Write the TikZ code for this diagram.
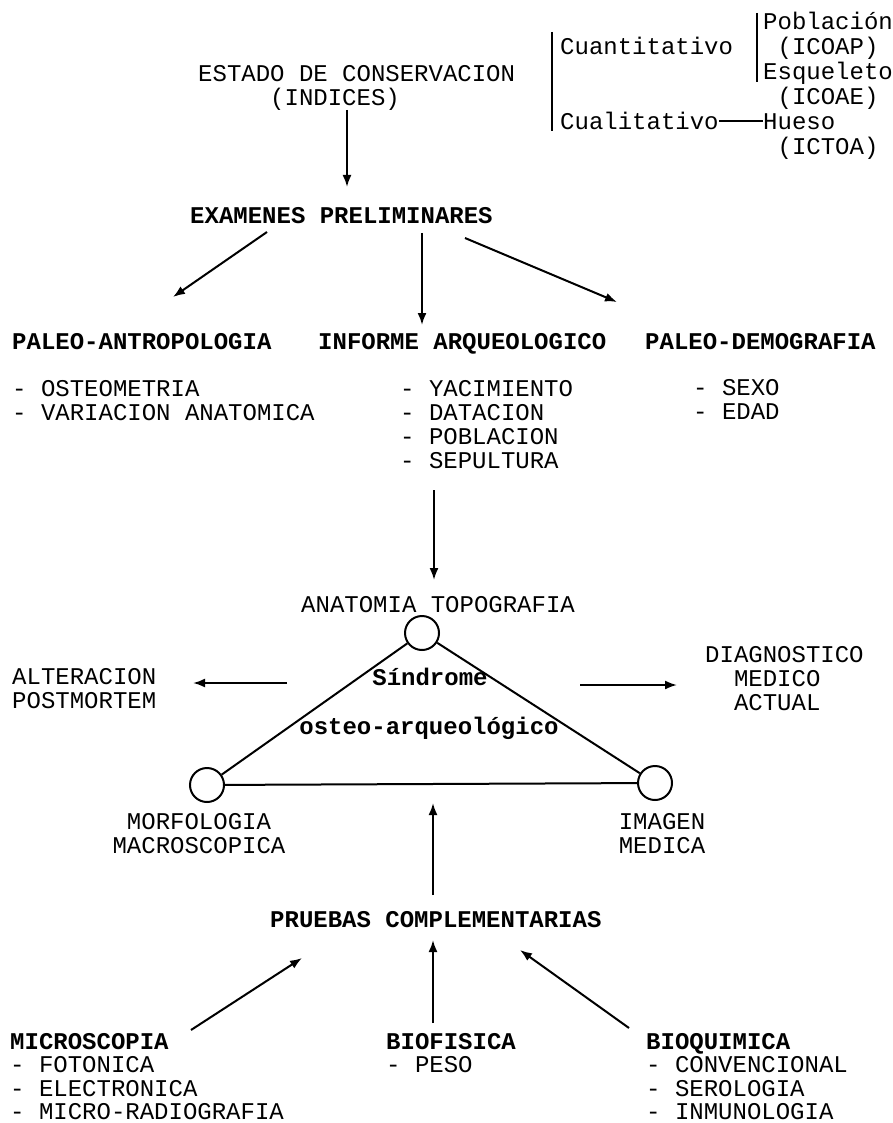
\documentclass[tikz,border=0pt]{standalone}
\usepackage{fontspec}
\setmainfont{Liberation Mono}
\usepackage{tikz}
\usetikzlibrary{arrows.meta,calc,positioning}
\tikzset{
mytext/.style={
  inner sep=0pt,
  align=left,
  anchor=base west,
  font=\fontsize{24}{24}\selectfont,
  }
}
\tikzset{
mybold/.style={
  mytext,
  font=\fontsize{24}{24}\selectfont\bfseries,
  }
}
\tikzset{
mycircle/.style={
  circle,
  line width=2pt,
  inner sep=0pt,
  minimum size=34pt,
  draw=black,
  fill=white,
  }
}
\tikzset{
myarrow/.style={
  line width=2pt,
  -{Latex[length=12pt,width=9pt]}
  }
}
\tikzset{
myline/.style={
  line width=2pt,
  }
}

\begin{document}
\begin{tikzpicture}[x=1pt,y=-1pt]
    \useasboundingbox (0,0) rectangle (893,1123);

    % indices part (multi-line nodes sit on their last line)
    \node[mytext] (estado) at (198,106) {ESTADO DE CONSERVACION\\\phantom{ESTAD}(INDICES)};
    \node[mytext] (cuanti) at (560,55) {Cuantitativo};
    \node[mytext] (cuali) at (560,130) {Cualitativo};
    \node[mytext, font=\fontsize{24}{25}\selectfont] (pobl) at (763,105) {Población\\\ (ICOAP)\\Esqueleto\\\ (ICOAE)};
    \node[mytext, font=\fontsize{24}{25}\selectfont] (hueso) at (763,155) {Hueso\\\ (ICTOA)};

    % preliminary part
    \node[mybold] (exam) at (190,224) {EXAMENES PRELIMINARES};
    \node[mybold] (antrop) at (12,349) {PALEO-ANTROPOLOGIA};
    \node[mybold] (informe) at (318,349) {INFORME ARQUEOLOGICO};
    \node[mybold] (demog) at (645,349) {PALEO-DEMOGRAFIA};
    \node[mytext] (antropList) at (12,420) {- OSTEOMETRIA\\- VARIACION ANATOMICA};
    \node[mytext] (informeList) at (400,468) {- YACIMIENTO\\- DATACION\\- POBLACION\\- SEPULTURA};
    \node[mytext] (demogList) at (693,419) {- SEXO\\- EDAD};

    % syndrome part
    \node[mytext] (anat) at (301,612) {ANATOMIA TOPOGRAFIA};
    \node[mycircle] (cAnat) at (422,633) {};
    \node[mycircle] (cMorf) at (207,785) {};
    \node[mycircle] (cImag) at (655,783) {};
    \node[mybold, anchor=base] (sindrome) at (430,685) {Síndrome};
    \node[mybold, anchor=base] (osteo) at (429,734) {osteo-arqueológico};
    \node[mytext] (alter) at (12,708) {ALTERACION\\POSTMORTEM};
    \node[mytext] (diagn) at (705,710) {DIAGNOSTICO\\\phantom{DI}MEDICO\\\phantom{DI}ACTUAL};
    \node[mytext, align=center, anchor=base] (morf) at (199,853) {MORFOLOGIA\\MACROSCOPICA};
    \node[mytext, align=center, anchor=base] (imag) at (662,853) {IMAGEN\\MEDICA};

    % complementary part
    \node[mybold] (pruebas) at (270,927) {PRUEBAS COMPLEMENTARIAS};
    \node[mytext, font=\fontsize{24}{23.5}\selectfont] (micro) at (10,1119.5) {\textbf{MICROSCOPIA}\\- FOTONICA\\- ELECTRONICA\\- MICRO-RADIOGRAFIA};
    \node[mytext, font=\fontsize{24}{23.5}\selectfont] (biof) at (386,1072.5) {\textbf{BIOFISICA}\\- PESO};
    \node[mytext, font=\fontsize{24}{23.5}\selectfont] (bioq) at (646,1119.5) {\textbf{BIOQUIMICA}\\- CONVENCIONAL\\- SEROLOGIA\\- INMUNOLOGIA};

    % indices edges
    \draw[myline] ($(cuanti.base west)+(-8,-23)$) -- ($(cuali.base west)+(-8,1)$);
    \draw[myline] ($(pobl.base west)+(-6,-92)$) -- ($(pobl.base west)+(-6,-23)$);
    \draw[myline] (cuali.east) -- (cuali.east -| hueso.west);

    % preliminary edges
    \draw[myarrow] ($(estado.base west)+(149,4)$) -- ($(exam.base west)+(157,-37)$);
    \draw[myarrow] ($(exam.base west)+(77,8)$) -- ($(antrop.base west)+(161,-52)$);
    \draw[myarrow] ($(exam.base west)+(232,9)$) -- ($(informe.base west)+(104,-24)$);
    \draw[myarrow] ($(exam.base west)+(275,14)$) -- ($(demog.base west)+(-28,-47)$);
    \draw[myarrow] ($(informeList.base west)+(34,22)$) -- ($(anat.base west)+(133,-32)$);

    % syndrome edges
    \draw[myline] (cAnat) -- (cMorf);
    \draw[myline] (cAnat) -- (cImag);
    \draw[myline] (cMorf) -- (cImag);
    \draw[myarrow] ($(sindrome.base)+(-143,-2)$) -- ($(alter.base west)+(181,-25)$);
    \draw[myarrow] ($(sindrome.base)+(150,0)$) -- ($(diagn.base west)+(-28,-25)$);

    % complementary edges
    \draw[myarrow] ($(pruebas.base west)+(163,-32)$) -- ($(cMorf)!0.5!(cImag)+(2,19)$);
    \draw[myarrow] ($(micro.base west)+(181,-89.5)$) -- ($(pruebas.base west)+(32,31)$);
    \draw[myarrow] ($(biof.base west)+(47,-49.5)$) -- ($(pruebas.base west)+(163,13)$);
    \draw[myarrow] ($(bioq.base west)+(-17,-91.5)$) -- ($(pruebas.base west)+(250,23)$);
\end{tikzpicture}
\end{document}
